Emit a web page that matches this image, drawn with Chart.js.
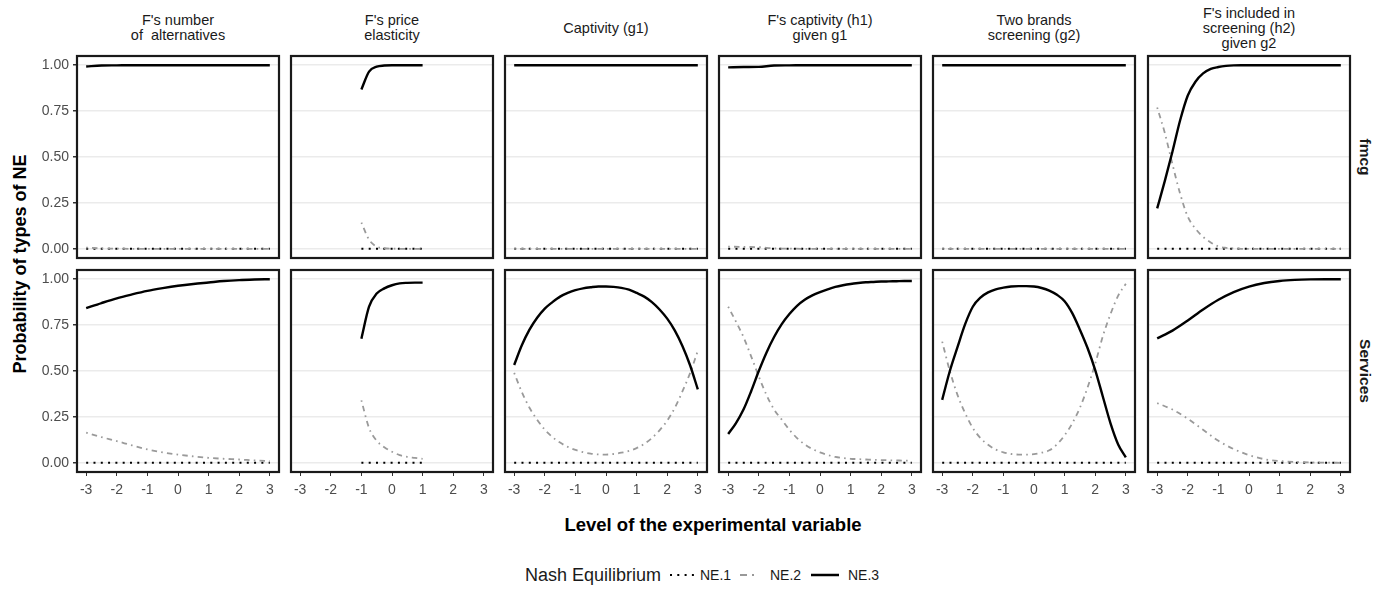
<!DOCTYPE html>
<html>
<head>
<meta charset="utf-8">
<script src="https://cdn.jsdelivr.net/npm/chart.js@4.4.1/dist/chart.umd.min.js"></script>
<style>
  body { margin: 0; background: #fff; }
  #wrap { position: relative; width: 1378px; height: 589px; overflow: hidden;
          font-family: "Liberation Sans", Arial, sans-serif; }
  canvas { position: absolute; }
  .strip { position: absolute; top: 0; height: 56px; width: 202px; display: flex;
           align-items: center; justify-content: center; text-align: center;
           font-size: 14.5px; line-height: 15px; color: #1a1a1a; white-space: pre; }
  .rowstrip { position: absolute; font-weight: bold; font-size: 15.5px; color: #1a1a1a;
              transform: translate(-50%, -50%) rotate(90deg); white-space: nowrap; }
  #ytitle { position: absolute; left: 20px; top: 264px; font-weight: bold; font-size: 18px;
            transform: translate(-50%, -50%) rotate(-90deg); white-space: nowrap; color: #000; }
  #xtitle { position: absolute; left: 713px; top: 525px; font-weight: bold; font-size: 18.5px;
            transform: translate(-50%, -50%); white-space: nowrap; color: #000; }
  .leg { position: absolute; top: 575px; transform: translateY(-50%); white-space: nowrap; color: #1a1a1a; }
  .legkey { position: absolute; top: 567px; }
</style>
</head>
<body>
<div id="wrap">
  <div id="ytitle">Probability of types of NE</div>
  <div id="xtitle">Level of the experimental variable</div>
  <div class="leg" style="left:525px;font-size:18px">Nash Equilibrium</div>
  <svg class="legkey" style="left:669px" width="26" height="16"><line x1="1" y1="8" x2="26" y2="8" stroke="#000" stroke-width="2" stroke-dasharray="2 5.3"/></svg>
  <div class="leg" style="left:700px;font-size:14px">NE.1</div>
  <svg class="legkey" style="left:738px" width="26" height="16"><line x1="2" y1="8" x2="26" y2="8" stroke="#999" stroke-width="2.2" stroke-dasharray="7 5 2 20"/></svg>
  <div class="leg" style="left:770px;font-size:14px">NE.2</div>
  <svg class="legkey" style="left:810px" width="30" height="16"><line x1="1" y1="8" x2="29" y2="8" stroke="#000" stroke-width="2.5"/></svg>
  <div class="leg" style="left:848px;font-size:14px">NE.3</div>
</div>
<script>
// levels of the experimental variable
const xLevels = [-3, -2.5, -2, -1.5, -1, -0.5, 0, 0.5, 1, 1.5, 2, 2.5, 3]
const xFine = [-3, -2.75, -2.5, -2.25, -2, -1.75, -1.5, -1.25, -1, -0.75, -0.5, -0.25, 0,
  0.25, 0.5, 0.75, 1, 1.25, 1.5, 1.75, 2, 2.25, 2.5, 2.75, 3]
const xElasticity = [-1, -0.75, -0.5, -0.25, 0, 0.25, 0.5, 0.75, 1]
const xTickValues = [-3, -2, -1, 0, 1, 2, 3]
const yTickValues = [0, 0.25, 0.5, 0.75, 1]

const columnTitles = [
  "F's number\nof  alternatives",
  "F's price\nelasticity",
  'Captivity (g1)',
  "F's captivity (h1)\ngiven g1",
  'Two brands\nscreening (g2)',
  "F's included in\nscreening (h2)\ngiven g2",
]
const rowTitles = ['fmcg', 'Services']
const seriesNames = ['NE.1', 'NE.2', 'NE.3']

// NE.1 stays at zero everywhere
const ne1Levels = [0, 0, 0, 0, 0, 0, 0, 0, 0, 0, 0, 0, 0]
const ne1Fine = [0, 0, 0, 0, 0, 0, 0, 0, 0, 0, 0, 0, 0, 0, 0, 0, 0, 0, 0, 0, 0, 0, 0, 0, 0]
const ne1Elasticity = [0, 0, 0, 0, 0, 0, 0, 0, 0]

// fmcg
const fmcgAlternativesNE2 = [0.007, 0.002, 0.001, 0, 0, 0, 0, 0, 0, 0, 0, 0, 0]
const fmcgAlternativesNE3 = [0.993, 0.998, 0.999, 1, 1, 1, 1, 1, 1, 1, 1, 1, 1]
const fmcgElasticityNE2 = [0.143, 0.05, 0.012, 0.003, 0.001, 0, 0, 0, 0]
const fmcgElasticityNE3 = [0.868, 0.965, 0.992, 0.998, 1, 1, 1, 1, 1]
const fmcgCaptivityNE2 = [0, 0, 0, 0, 0, 0, 0, 0, 0, 0, 0, 0, 0]
const fmcgCaptivityNE3 = [1, 1, 1, 1, 1, 1, 1, 1, 1, 1, 1, 1, 1]
const fmcgCaptivityH1NE2 = [0.012, 0.01, 0.009, 0.002, 0.001, 0, 0, 0, 0, 0, 0, 0, 0]
const fmcgCaptivityH1NE3 = [0.988, 0.99, 0.991, 0.998, 0.999, 1, 1, 1, 1, 1, 1, 1, 1]
const fmcgScreeningNE2 = [0, 0, 0, 0, 0, 0, 0, 0, 0, 0, 0, 0, 0]
const fmcgScreeningNE3 = [1, 1, 1, 1, 1, 1, 1, 1, 1, 1, 1, 1, 1]
const fmcgIncludedNE2 = [0.77, 0.63, 0.46, 0.3, 0.175, 0.11, 0.065, 0.035, 0.013, 0.005, 0.002, 0, 0,
  0, 0, 0, 0, 0, 0, 0, 0, 0, 0, 0, 0]
const fmcgIncludedNE3 = [0.22, 0.37, 0.53, 0.7, 0.835, 0.91, 0.955, 0.98, 0.99, 0.996, 0.999, 1, 1,
  1, 1, 1, 1, 1, 1, 1, 1, 1, 1, 1, 1]

// Services
const servAlternativesNE2 = [0.164, 0.14, 0.118, 0.095, 0.073, 0.057, 0.045, 0.035, 0.027, 0.022, 0.018, 0.013, 0.009]
const servAlternativesNE3 = [0.842, 0.87, 0.896, 0.917, 0.936, 0.951, 0.964, 0.974, 0.982, 0.99, 0.995, 0.998, 1]
const servElasticityNE2 = [0.34, 0.19, 0.12, 0.085, 0.06, 0.042, 0.032, 0.027, 0.022]
const servElasticityNE3 = [0.676, 0.85, 0.922, 0.95, 0.967, 0.977, 0.98, 0.981, 0.981]
const servCaptivityNE2 = [0.49, 0.385, 0.3, 0.235, 0.18, 0.14, 0.11, 0.087, 0.07, 0.058, 0.05, 0.046, 0.045,
  0.048, 0.055, 0.065, 0.08, 0.103, 0.135, 0.177, 0.23, 0.3, 0.39, 0.49, 0.61]
const servCaptivityNE3 = [0.533, 0.64, 0.725, 0.79, 0.84, 0.875, 0.905, 0.925, 0.94, 0.95, 0.956, 0.96, 0.96,
  0.958, 0.953, 0.943, 0.925, 0.905, 0.875, 0.835, 0.785, 0.72, 0.635, 0.53, 0.4]
const servCaptivityH1NE2 = [0.85, 0.77, 0.685, 0.58, 0.47, 0.37, 0.29, 0.235, 0.18, 0.135, 0.1, 0.075, 0.057,
  0.043, 0.032, 0.026, 0.022, 0.02, 0.018, 0.016, 0.015, 0.014, 0.013, 0.012, 0.012]
const servCaptivityH1NE3 = [0.157, 0.215, 0.29, 0.39, 0.5, 0.6, 0.685, 0.755, 0.81, 0.855, 0.888, 0.912, 0.93,
  0.945, 0.958, 0.967, 0.974, 0.979, 0.983, 0.985, 0.987, 0.988, 0.989, 0.99, 0.99]
const servScreeningNE2 = [0.66, 0.5, 0.37, 0.27, 0.19, 0.135, 0.098, 0.072, 0.057, 0.048, 0.045, 0.045, 0.047,
  0.055, 0.068, 0.1, 0.15, 0.215, 0.3, 0.41, 0.54, 0.69, 0.81, 0.91, 0.975]
const servScreeningNE3 = [0.343, 0.5, 0.63, 0.755, 0.85, 0.9, 0.928, 0.945, 0.954, 0.96, 0.962, 0.962, 0.96,
  0.952, 0.938, 0.915, 0.88, 0.815, 0.725, 0.625, 0.505, 0.36, 0.215, 0.1, 0.03]
const servIncludedNE2 = [0.325, 0.29, 0.24, 0.18, 0.12, 0.075, 0.042, 0.02, 0.01, 0.005, 0.002, 0.001, 0]
const servIncludedNE3 = [0.678, 0.72, 0.775, 0.835, 0.888, 0.93, 0.96, 0.979, 0.99, 0.996, 0.999, 1, 1]

// [row][col] -> [x values, NE.1, NE.2, NE.3]
const panels = [
  [
    [xLevels, ne1Levels, fmcgAlternativesNE2, fmcgAlternativesNE3],
    [xElasticity, ne1Elasticity, fmcgElasticityNE2, fmcgElasticityNE3],
    [xLevels, ne1Levels, fmcgCaptivityNE2, fmcgCaptivityNE3],
    [xLevels, ne1Levels, fmcgCaptivityH1NE2, fmcgCaptivityH1NE3],
    [xLevels, ne1Levels, fmcgScreeningNE2, fmcgScreeningNE3],
    [xFine, ne1Fine, fmcgIncludedNE2, fmcgIncludedNE3],
  ],
  [
    [xLevels, ne1Levels, servAlternativesNE2, servAlternativesNE3],
    [xElasticity, ne1Elasticity, servElasticityNE2, servElasticityNE3],
    [xFine, ne1Fine, servCaptivityNE2, servCaptivityNE3],
    [xFine, ne1Fine, servCaptivityH1NE2, servCaptivityH1NE3],
    [xFine, ne1Fine, servScreeningNE2, servScreeningNE3],
    [xLevels, ne1Levels, servIncludedNE2, servIncludedNE3],
  ],
]

// layout of the facet grid
const PANEL = 202
const AXIS_W = 46
const AXIS_H = 32
const PAD_T = 3
const PAD_R = 3
const panelLefts = [77, 291, 505, 719, 933, 1148]
const panelTops = [56, 270]
const FONT = '"Liberation Sans", Arial, sans-serif'

const lineStyles = {
  'NE.1': { borderColor: '#000000', borderWidth: 2, borderDash: [2, 5.3] },
  'NE.2': { borderColor: '#9a9a9a', borderWidth: 1.8, borderDash: [1.6, 4.2, 5.5, 4.2] },
  'NE.3': { borderColor: '#000000', borderWidth: 2.4, borderDash: [] },
}

const panelBorder = {
  id: 'panelBorder',
  afterDraw(chart) {
    const { ctx, chartArea: a } = chart
    ctx.save()
    ctx.strokeStyle = '#1a1a1a'
    ctx.lineWidth = 2.2
    ctx.strokeRect(a.left, a.top, a.right - a.left, a.bottom - a.top)
    ctx.restore()
  },
}

const wrap = document.getElementById('wrap')

columnTitles.forEach((title, c) => {
  const div = document.createElement('div')
  div.className = 'strip'
  div.style.left = panelLefts[c] + 'px'
  div.textContent = title
  wrap.appendChild(div)
})

rowTitles.forEach((title, r) => {
  const div = document.createElement('div')
  div.className = 'rowstrip'
  div.style.left = '1365px'
  div.style.top = panelTops[r] + PANEL / 2 + 'px'
  div.textContent = title
  wrap.appendChild(div)
})

function plotPanel(r, c) {
  const [xs, ...series] = panels[r][c]
  const firstCol = c === 0
  const bottomRow = r === panels.length - 1

  const canvas = document.createElement('canvas')
  canvas.width = AXIS_W + PANEL + PAD_R
  canvas.height = PAD_T + PANEL + AXIS_H
  canvas.style.left = panelLefts[c] - AXIS_W + 'px'
  canvas.style.top = panelTops[r] - PAD_T + 'px'
  wrap.appendChild(canvas)

  // NE.3 first so it is painted on top
  const datasets = series
    .map((ys, i) => ({
      label: seriesNames[i],
      data: xs.map((x, j) => ({ x, y: ys[j] })),
      pointRadius: 0,
      fill: false,
      cubicInterpolationMode: 'monotone',
      borderCapStyle: 'butt',
      ...lineStyles[seriesNames[i]],
    }))
    .reverse()

  new Chart(canvas, {
    type: 'line',
    data: { datasets },
    plugins: [panelBorder],
    options: {
      responsive: false,
      animation: false,
      events: [],
      devicePixelRatio: 1,
      layout: { padding: { top: PAD_T, right: PAD_R, left: 0, bottom: 0 } },
      plugins: { legend: { display: false }, tooltip: { enabled: false } },
      scales: {
        x: {
          type: 'linear',
          min: -3.3,
          max: 3.3,
          afterBuildTicks: (scale) => { scale.ticks = xTickValues.map((v) => ({ value: v })) },
          afterFit: (scale) => { scale.height = AXIS_H; scale.paddingLeft = 0; scale.paddingRight = 0 },
          grid: { display: bottomRow, drawOnChartArea: false, tickColor: '#333', tickLength: 4 },
          border: { display: false },
          ticks: {
            display: bottomRow,
            padding: 6,
            color: '#4d4d4d',
            font: { family: FONT, size: 14 },
            callback: (v) => String(v),
          },
        },
        y: {
          min: -0.05,
          max: 1.05,
          afterBuildTicks: (scale) => { scale.ticks = yTickValues.map((v) => ({ value: v })) },
          afterFit: (scale) => { scale.width = AXIS_W; scale.paddingTop = 0; scale.paddingBottom = 0 },
          grid: { color: '#ebebeb', lineWidth: 1.5, drawTicks: firstCol, tickColor: '#333', tickLength: 4 },
          border: { display: false },
          ticks: {
            display: firstCol,
            padding: 4,
            color: '#4d4d4d',
            font: { family: FONT, size: 14 },
            callback: (v) => v.toFixed(2),
          },
        },
      },
    },
  })
}

panels.forEach((row, r) => row.forEach((_, c) => plotPanel(r, c)))
</script>
</body>
</html>
